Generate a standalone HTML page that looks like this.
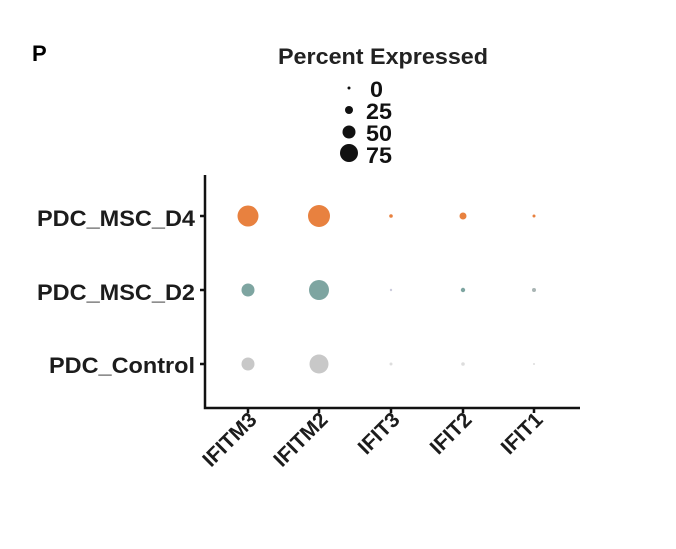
<!DOCTYPE html><html><head><style>body{margin:0;background:#fff}</style></head><body>
<svg width="676" height="544" xmlns="http://www.w3.org/2000/svg" font-family="Liberation Sans, sans-serif" font-weight="bold">
<text x="32" y="61" font-size="22">P</text>
<text x="278" y="64" font-size="22" textLength="210" lengthAdjust="spacingAndGlyphs" fill="#222">Percent Expressed</text>
<g fill="#111"><circle cx="349" cy="88" r="1.5"/><circle cx="349" cy="110" r="4"/><circle cx="349" cy="132" r="6.5"/><circle cx="349" cy="153" r="9"/></g>
<g font-size="22" fill="#111"><text x="370" y="97" textLength="13" lengthAdjust="spacingAndGlyphs">0</text><text x="366" y="119" textLength="26" lengthAdjust="spacingAndGlyphs">25</text><text x="366" y="141" textLength="26" lengthAdjust="spacingAndGlyphs">50</text><text x="366" y="163" textLength="26" lengthAdjust="spacingAndGlyphs">75</text></g>
<g stroke="#111" stroke-width="2.5" fill="none"><path d="M205,175V408H580"/>
<path d="M200,216h5M200,290h5M200,364h5M248,408v5M319,408v5M391,408v5M463,408v5M534,408v5"/></g>
<g font-size="22" fill="#1c1c1c">
<text x="37" y="226" textLength="158" lengthAdjust="spacingAndGlyphs">PDC_MSC_D4</text>
<text x="37" y="300" textLength="158" lengthAdjust="spacingAndGlyphs">PDC_MSC_D2</text>
<text x="49" y="373" textLength="146" lengthAdjust="spacingAndGlyphs">PDC_Control</text></g>
<g fill="#e8813f"><circle cx="248" cy="216" r="10.5"/><circle cx="319" cy="216" r="11"/><circle cx="391" cy="216" r="1.8"/><circle cx="463" cy="216" r="3.5"/><circle cx="534" cy="216" r="1.5"/></g>
<g fill="#7ea5a1"><circle cx="248" cy="290" r="6.5"/><circle cx="319" cy="290" r="10"/><circle cx="391" cy="290" r="1.2" fill="#ccd"/><circle cx="463" cy="290" r="2.2"/><circle cx="534" cy="290" r="2" fill="#a9b5b4"/></g>
<g fill="#c8c8c8"><circle cx="248" cy="364" r="6.5"/><circle cx="319" cy="364" r="9.5"/><circle cx="391" cy="364" r="1.5" fill="#ddd"/><circle cx="463" cy="364" r="1.8" fill="#ddd"/><circle cx="534" cy="364" r="1" fill="#ddd"/></g>
<g font-size="21" text-anchor="end" fill="#1c1c1c">
<text transform="translate(258,421) rotate(-45)">IFITM3</text>
<text transform="translate(329,421) rotate(-45)">IFITM2</text>
<text transform="translate(401,421) rotate(-45)">IFIT3</text>
<text transform="translate(473,421) rotate(-45)">IFIT2</text>
<text transform="translate(544,421) rotate(-45)">IFIT1</text></g>
</svg></body></html>
